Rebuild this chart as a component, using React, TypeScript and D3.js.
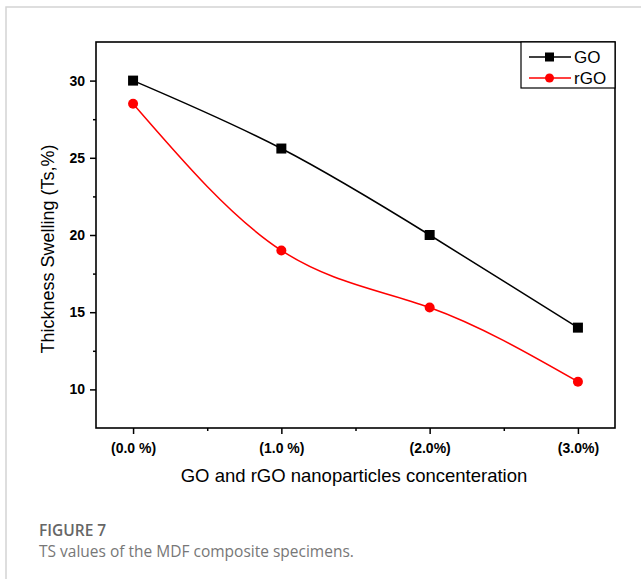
import React, { useEffect, useRef } from "react";
import * as d3 from "d3";

// chart values
const categories = ["(0.0 %)", "(1.0 %)", "(2.0%)", "(3.0%)"];
const goValues = [30, 25.6, 20, 14];
const rgoValues = [28.5, 19, 15.3, 10.5];
const yTicks = [10, 15, 20, 25, 30];
const yMinorTicks = [12.5, 17.5, 22.5, 27.5];
const xMinorTicks = [0.5, 1.5, 2.5];
const seriesNames = ["GO", "rGO"];

const W = 641;
const H = 579;
const font = "Arial, 'Liberation Sans', sans-serif";

const App = () => {
  const ref = useRef<SVGSVGElement>(null);

  useEffect(() => {
    const svg = d3.select(ref.current);
    svg.selectAll("*").remove();

    const left = 96, right = 615, top = 42, bottom = 428;

    const x = d3.scaleLinear().domain([-0.25, 3.25]).range([left, right]);
    const y = d3.scaleLinear().domain([7.5, 32.5]).range([bottom, top]);

    // card frame
    svg.append("path")
      .attr("d", `M6,${H} V7 H${W}`)
      .attr("fill", "none")
      .attr("stroke", "#d4d4d4")
      .attr("stroke-width", 1.5);

    // plot box
    svg.append("rect")
      .attr("x", left).attr("y", top)
      .attr("width", right - left).attr("height", bottom - top)
      .attr("fill", "none")
      .attr("stroke", "#000")
      .attr("stroke-width", 1.6);

    // y axis
    const yAxis = svg.append("g")
      .attr("transform", `translate(${left},0)`)
      .call(d3.axisLeft(y).tickValues(yTicks).tickSize(6).tickPadding(5).tickFormat(d => String(d)));
    yAxis.select(".domain").remove();
    yAxis.selectAll("line").attr("stroke-width", 1.5);
    yAxis.selectAll("text")
      .attr("font-family", font).attr("font-size", 14).attr("font-weight", "bold").attr("fill", "#000");

    const yMinor = svg.append("g")
      .attr("transform", `translate(${left},0)`)
      .call(d3.axisLeft(y).tickValues(yMinorTicks).tickSize(3).tickFormat(() => ""));
    yMinor.select(".domain").remove();
    yMinor.selectAll("line").attr("stroke-width", 1.5);

    // x axis
    const xAxis = svg.append("g")
      .attr("transform", `translate(0,${bottom})`)
      .call(d3.axisBottom(x).tickValues([0, 1, 2, 3]).tickSize(6).tickPadding(9)
        .tickFormat((d) => categories[d as number]));
    xAxis.select(".domain").remove();
    xAxis.selectAll("line").attr("stroke-width", 1.5);
    xAxis.selectAll("text")
      .attr("font-family", font).attr("font-size", 14).attr("font-weight", "bold").attr("fill", "#000");

    const xMinor = svg.append("g")
      .attr("transform", `translate(0,${bottom})`)
      .call(d3.axisBottom(x).tickValues(xMinorTicks).tickSize(3).tickFormat(() => ""));
    xMinor.select(".domain").remove();
    xMinor.selectAll("line").attr("stroke-width", 1.5);

    // axis titles
    svg.append("text")
      .attr("transform", `translate(54,249) rotate(-90)`)
      .attr("text-anchor", "middle")
      .attr("font-family", font).attr("font-size", 18)
      .text("Thickness Swelling (Ts,%)");

    svg.append("text")
      .attr("x", 354).attr("y", 482)
      .attr("text-anchor", "middle")
      .attr("font-family", font).attr("font-size", 18.5)
      .text("GO and rGO nanoparticles concenteration");

    // lines
    const line = d3.line<number>()
      .x((_, i) => x(i))
      .y(d => y(d))
      .curve(d3.curveNatural);

    svg.append("path")
      .attr("d", line(goValues))
      .attr("fill", "none").attr("stroke", "#000").attr("stroke-width", 1.5);
    svg.append("path")
      .attr("d", line(rgoValues))
      .attr("fill", "none").attr("stroke", "#ff0000").attr("stroke-width", 1.5);

    svg.selectAll(".go")
      .data(goValues).enter().append("rect")
      .attr("x", (_, i) => x(i) - 5).attr("y", d => y(d) - 5)
      .attr("width", 10).attr("height", 10)
      .attr("fill", "#000");
    svg.selectAll(".rgo")
      .data(rgoValues).enter().append("circle")
      .attr("cx", (_, i) => x(i)).attr("cy", d => y(d))
      .attr("r", 5)
      .attr("fill", "#ff0000");

    // legend
    const lg = svg.append("g");
    lg.append("rect")
      .attr("x", 521).attr("y", top)
      .attr("width", right - 521).attr("height", 46)
      .attr("fill", "#fff").attr("stroke", "#000").attr("stroke-width", 1.2);
    const colors = ["#000", "#ff0000"];
    seriesNames.forEach((name, i) => {
      const ly = 57 + i * 21;
      lg.append("line")
        .attr("x1", 529).attr("x2", 571).attr("y1", ly).attr("y2", ly)
        .attr("stroke", colors[i]).attr("stroke-width", 1.5);
      if (i === 0) {
        lg.append("rect").attr("x", 545).attr("y", ly - 4.5).attr("width", 9).attr("height", 9).attr("fill", colors[i]);
      } else {
        lg.append("circle").attr("cx", 549.5).attr("cy", ly).attr("r", 4.5).attr("fill", colors[i]);
      }
      lg.append("text")
        .attr("x", 574).attr("y", ly + 6)
        .attr("font-family", font).attr("font-size", 17)
        .text(name);
    });

    // caption
    svg.append("text")
      .attr("x", 39).attr("y", 536)
      .attr("font-family", "'Open Sans', sans-serif").attr("font-size", 15.5).attr("font-weight", 600)
      .attr("fill", "#666")
      .text("FIGURE 7");
    svg.append("text")
      .attr("x", 39).attr("y", 557)
      .attr("font-family", "'Open Sans', sans-serif").attr("font-size", 15.5)
      .attr("fill", "#777")
      .text("TS values of the MDF composite specimens.");
  }, []);

  return (
    <svg ref={ref} width={W} height={H}
      style={{ position: "absolute", left: 0, top: 0, background: "#fff" }} />
  );
};

export default App;
